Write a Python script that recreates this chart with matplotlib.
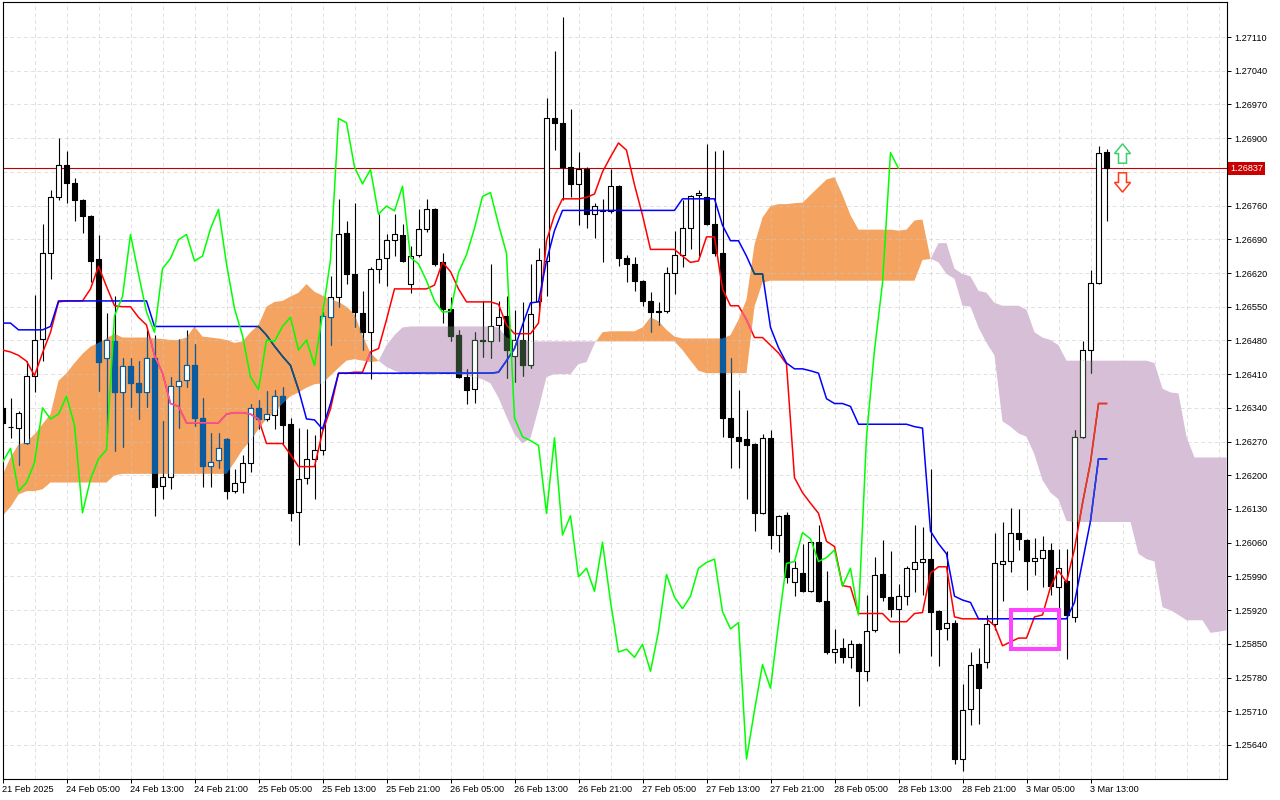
import numpy as np
import matplotlib
matplotlib.use("Agg")
import matplotlib.pyplot as plt
from matplotlib.collections import LineCollection, PatchCollection
from matplotlib.patches import Rectangle, Polygon
from matplotlib.path import Path

plt.rcParams['font.family'] = ['Liberation Sans', 'DejaVu Sans']

# H1 bars, 21 Feb 2025 21:00 .. 3 Mar 2025 14:00
opens = [
    1.26340, 1.26300, 1.26298, 1.26268, 1.26407, 1.26484, 1.26661, 1.26777, 1.26844, 1.26807,
    1.26772, 1.26739, 1.26649, 1.26444, 1.26478, 1.26373, 1.26427, 1.26392, 1.26373, 1.26444,
    1.26177, 1.26197, 1.26386, 1.26398, 1.26430, 1.26319, 1.26220, 1.26232, 1.26275, 1.26167,
    1.26187, 1.26226, 1.26340, 1.26317, 1.26325, 1.26364, 1.26306, 1.26124, 1.26194, 1.26234,
    1.26253, 1.26528, 1.26571, 1.26703, 1.26618, 1.26537, 1.26497, 1.26629, 1.26652, 1.26689,
    1.26698, 1.26597, 1.26658, 1.26712, 1.26752, 1.26642, 1.26546, 1.26491, 1.26404, 1.26380,
    1.26481, 1.26478, 1.26511, 1.26530, 1.26447, 1.26481, 1.26428, 1.26562, 1.26645, 1.26941,
    1.26932, 1.26840, 1.26805, 1.26835, 1.26742, 1.26750, 1.26748, 1.26801, 1.26652, 1.26639,
    1.26604, 1.26562, 1.26541, 1.26542, 1.26621, 1.26658, 1.26713, 1.26782, 1.26777, 1.26721,
    1.26661, 1.26319, 1.26280, 1.26275, 1.26264, 1.26121, 1.26278, 1.26076, 1.26118, 1.25978,
    1.25997, 1.25959, 1.26061, 1.25938, 1.25833, 1.25841, 1.25822, 1.25849, 1.25793, 1.25878,
    1.25996, 1.25947, 1.25923, 1.25949, 1.26005, 1.26019, 1.26026, 1.25918, 1.25883, 1.25894,
    1.25611, 1.25714, 1.25809, 1.25812, 1.25892, 1.26016, 1.26021, 1.26081, 1.26066, 1.26021,
    1.26029, 1.26045, 1.25968, 1.25981, 1.25906, 1.26280, 1.26460, 1.26599, 1.26872,
]
highs = [
    1.26343, 1.26361, 1.26333, 1.26437, 1.26574, 1.26722, 1.26793, 1.26901, 1.26873, 1.26817,
    1.26774, 1.26741, 1.26698, 1.26536, 1.26573, 1.26444, 1.26444, 1.26438, 1.26502, 1.26491,
    1.26312, 1.26404, 1.26484, 1.26502, 1.26473, 1.26361, 1.26287, 1.26287, 1.26277, 1.26213,
    1.26243, 1.26349, 1.26357, 1.26375, 1.26378, 1.26383, 1.26319, 1.26298, 1.26296, 1.26283,
    1.26539, 1.26613, 1.26774, 1.26729, 1.26766, 1.26583, 1.26632, 1.26742, 1.26700, 1.26742,
    1.26722, 1.26676, 1.26752, 1.26774, 1.26754, 1.26661, 1.26571, 1.26502, 1.26421, 1.26497,
    1.26562, 1.26639, 1.26562, 1.26573, 1.26544, 1.26560, 1.26639, 1.26671, 1.26983, 1.27080,
    1.27152, 1.26960, 1.26872, 1.26840, 1.26766, 1.26774, 1.26835, 1.26803, 1.26657, 1.26653,
    1.26606, 1.26581, 1.26560, 1.26632, 1.26708, 1.26772, 1.26782, 1.26793, 1.26888, 1.26874,
    1.26875, 1.26444, 1.26378, 1.26336, 1.26266, 1.26285, 1.26293, 1.26118, 1.26123, 1.26021,
    1.26058, 1.26063, 1.26097, 1.26002, 1.25880, 1.25862, 1.25857, 1.25851, 1.25952, 1.26031,
    1.26065, 1.26042, 1.25975, 1.26012, 1.26097, 1.26092, 1.26213, 1.25920, 1.26042, 1.25899,
    1.25767, 1.25834, 1.25841, 1.25910, 1.26081, 1.26103, 1.26132, 1.26130, 1.26068, 1.26070,
    1.26074, 1.26060, 1.26047, 1.26047, 1.26293, 1.26478, 1.26627, 1.26883, 1.26877,
]
lows = [
    1.26306, 1.26277, 1.26222, 1.26265, 1.26372, 1.26437, 1.26607, 1.26772, 1.26766, 1.26727,
    1.26703, 1.26602, 1.26375, 1.26287, 1.26250, 1.26259, 1.26341, 1.26317, 1.26341, 1.26116,
    1.26150, 1.26172, 1.26298, 1.26383, 1.26303, 1.26176, 1.26176, 1.26216, 1.26151, 1.26164,
    1.26164, 1.26206, 1.26296, 1.26312, 1.26296, 1.26264, 1.26105, 1.26055, 1.26181, 1.26150,
    1.26243, 1.26470, 1.26549, 1.26597, 1.26507, 1.26460, 1.26399, 1.26600, 1.26592, 1.26655,
    1.26642, 1.26579, 1.26653, 1.26705, 1.26634, 1.26516, 1.26478, 1.26401, 1.26349, 1.26351,
    1.26446, 1.26444, 1.26478, 1.26401, 1.26393, 1.26407, 1.26423, 1.26544, 1.26573, 1.26875,
    1.26772, 1.26777, 1.26719, 1.26713, 1.26692, 1.26642, 1.26745, 1.26634, 1.26602, 1.26583,
    1.26552, 1.26497, 1.26512, 1.26537, 1.26576, 1.26632, 1.26669, 1.26655, 1.26719, 1.26655,
    1.26280, 1.26216, 1.26216, 1.26150, 1.26084, 1.26119, 1.26047, 1.26040, 1.25976, 1.25949,
    1.25957, 1.25957, 1.25936, 1.25828, 1.25811, 1.25811, 1.25799, 1.25722, 1.25772, 1.25875,
    1.25938, 1.25906, 1.25830, 1.25931, 1.25957, 1.25952, 1.25825, 1.25804, 1.25857, 1.25601,
    1.25587, 1.25682, 1.25684, 1.25799, 1.25878, 1.25938, 1.25999, 1.26045, 1.25962, 1.25994,
    1.25968, 1.25952, 1.25923, 1.25818, 1.25896, 1.26277, 1.26412, 1.26597, 1.26727,
]
closes = [
    1.26308, 1.26300, 1.26330, 1.26406, 1.26481, 1.26661, 1.26777, 1.26844, 1.26807, 1.26772,
    1.26739, 1.26645, 1.26436, 1.26481, 1.26373, 1.26427, 1.26391, 1.26373, 1.26444, 1.26175,
    1.26197, 1.26386, 1.26396, 1.26430, 1.26319, 1.26220, 1.26227, 1.26256, 1.26167, 1.26185,
    1.26226, 1.26340, 1.26317, 1.26327, 1.26364, 1.26304, 1.26122, 1.26192, 1.26234, 1.26253,
    1.26531, 1.26571, 1.26700, 1.26618, 1.26539, 1.26497, 1.26629, 1.26650, 1.26689, 1.26700,
    1.26645, 1.26655, 1.26712, 1.26752, 1.26639, 1.26546, 1.26490, 1.26404, 1.26378, 1.26481,
    1.26478, 1.26509, 1.26528, 1.26460, 1.26481, 1.26428, 1.26534, 1.26647, 1.26941, 1.26932,
    1.26840, 1.26805, 1.26835, 1.26742, 1.26759, 1.26749, 1.26800, 1.26652, 1.26639, 1.26604,
    1.26562, 1.26539, 1.26540, 1.26621, 1.26658, 1.26713, 1.26779, 1.26787, 1.26721, 1.26661,
    1.26319, 1.26280, 1.26272, 1.26262, 1.26121, 1.26278, 1.26076, 1.26116, 1.25989, 1.26007,
    1.25959, 1.26061, 1.25938, 1.25833, 1.25839, 1.25822, 1.25849, 1.25793, 1.25876, 1.25994,
    1.25947, 1.25923, 1.25949, 1.26007, 1.26019, 1.26026, 1.25917, 1.25881, 1.25894, 1.25611,
    1.25712, 1.25807, 1.25758, 1.25892, 1.26017, 1.26021, 1.26081, 1.26068, 1.26021, 1.26029,
    1.26045, 1.25970, 1.26007, 1.25910, 1.26280, 1.26460, 1.26599, 1.26870, 1.26837,
]

# Ichimoku lines
tenkan = [
    1.26460, 1.26456, 1.26449, 1.26437, 1.26407, 1.26454, 1.26497, 1.26560, 1.26562, 1.26562,
    1.26562, 1.26587, 1.26634, 1.26592, 1.26552, 1.26550, 1.26550, 1.26528, 1.26512, 1.26449,
    1.26412, 1.26349, 1.26343, 1.26309, 1.26309, 1.26309, 1.26309, 1.26309, 1.26327, 1.26330,
    1.26330, 1.26327, 1.26317, 1.26266, 1.26266, 1.26266, 1.26243, 1.26218, 1.26218, 1.26218,
    1.26290, 1.26338, 1.26412, 1.26412, 1.26414, 1.26414, 1.26456, 1.26463, 1.26523, 1.26587,
    1.26587, 1.26587, 1.26587, 1.26587, 1.26595, 1.26642, 1.26623, 1.26587, 1.26560, 1.26560,
    1.26560, 1.26560, 1.26555, 1.26512, 1.26494, 1.26494, 1.26494, 1.26516, 1.26687, 1.26740,
    1.26774, 1.26774, 1.26774, 1.26777, 1.26784, 1.26830, 1.26861, 1.26890, 1.26875, 1.26803,
    1.26740, 1.26669, 1.26669, 1.26669, 1.26669, 1.26655, 1.26642, 1.26645, 1.26695, 1.26695,
    1.26587, 1.26552, 1.26552, 1.26523, 1.26486, 1.26486, 1.26470, 1.26454, 1.26431, 1.26195,
    1.26164, 1.26142, 1.26121, 1.26063, 1.26052, 1.25971, 1.25968, 1.25913, 1.25913, 1.25913,
    1.25913, 1.25896, 1.25896, 1.25896, 1.25913, 1.25915, 1.25997, 1.26010, 1.26010, 1.25906,
    1.25902, 1.25902, 1.25902, 1.25902, 1.25888, 1.25846, 1.25854, 1.25862, 1.25862, 1.25906,
    1.25910, 1.25968, 1.26002, 1.25978, 1.26047, 1.26142, 1.26227, 1.26349, 1.26349,
]
kijun = [
    1.26516, 1.26516, 1.26502, 1.26502, 1.26502, 1.26502, 1.26509, 1.26562, 1.26562, 1.26562,
    1.26562, 1.26562, 1.26562, 1.26562, 1.26562, 1.26562, 1.26562, 1.26562, 1.26562, 1.26509,
    1.26509, 1.26509, 1.26509, 1.26509, 1.26509, 1.26509, 1.26509, 1.26509, 1.26509, 1.26509,
    1.26509, 1.26509, 1.26509, 1.26491, 1.26468, 1.26447, 1.26428, 1.26378, 1.26317, 1.26315,
    1.26296, 1.26349, 1.26412, 1.26412, 1.26412, 1.26412, 1.26412, 1.26412, 1.26412, 1.26412,
    1.26412, 1.26412, 1.26412, 1.26412, 1.26412, 1.26412, 1.26412, 1.26412, 1.26412, 1.26412,
    1.26412, 1.26412, 1.26414, 1.26438, 1.26463, 1.26512, 1.26558, 1.26560, 1.26645, 1.26708,
    1.26750, 1.26750, 1.26750, 1.26750, 1.26750, 1.26750, 1.26750, 1.26750, 1.26750, 1.26750,
    1.26750, 1.26750, 1.26750, 1.26750, 1.26750, 1.26774, 1.26774, 1.26774, 1.26774, 1.26774,
    1.26719, 1.26687, 1.26687, 1.26655, 1.26618, 1.26618, 1.26507, 1.26465, 1.26433, 1.26421,
    1.26421, 1.26417, 1.26412, 1.26359, 1.26349, 1.26349, 1.26343, 1.26306, 1.26306, 1.26306,
    1.26306, 1.26306, 1.26306, 1.26306, 1.26301, 1.26298, 1.26084, 1.26058, 1.26037, 1.25949,
    1.25941, 1.25936, 1.25902, 1.25902, 1.25902, 1.25902, 1.25902, 1.25902, 1.25902, 1.25902,
    1.25902, 1.25902, 1.25902, 1.25902, 1.25936, 1.26021, 1.26105, 1.26234, 1.26234,
]
# senkou spans, already displaced 26 bars forward (so they run past the last bar)
span_a = [
    1.26200, 1.26237, 1.26264, 1.26269, 1.26285, 1.26306, 1.26327, 1.26396, 1.26412, 1.26433,
    1.26452, 1.26467, 1.26475, 1.26484, 1.26494, 1.26486, 1.26486, 1.26486, 1.26486, 1.26484,
    1.26483, 1.26481, 1.26481, 1.26486, 1.26509, 1.26488, 1.26486, 1.26484, 1.26481, 1.26475,
    1.26478, 1.26497, 1.26512, 1.26550, 1.26560, 1.26562, 1.26571, 1.26579, 1.26597, 1.26581,
    1.26573, 1.26565, 1.26560, 1.26550, 1.26534, 1.26491, 1.26454, 1.26438, 1.26425, 1.26417,
    1.26412, 1.26412, 1.26412, 1.26409, 1.26409, 1.26412, 1.26412, 1.26409, 1.26407, 1.26404,
    1.26399, 1.26391, 1.26361, 1.26322, 1.26285, 1.26266, 1.26277, 1.26338, 1.26404, 1.26410,
    1.26410, 1.26410, 1.26431, 1.26435, 1.26473, 1.26497, 1.26499, 1.26499, 1.26499, 1.26499,
    1.26507, 1.26528, 1.26520, 1.26502, 1.26488, 1.26484, 1.26484, 1.26484, 1.26484, 1.26484,
    1.26484, 1.26491, 1.26523, 1.26565, 1.26679, 1.26735, 1.26759, 1.26763, 1.26763, 1.26765,
    1.26766, 1.26782, 1.26798, 1.26814, 1.26819, 1.26782, 1.26740, 1.26710, 1.26710, 1.26710,
    1.26710, 1.26710, 1.26708, 1.26710, 1.26729, 1.26731, 1.26650, 1.26642, 1.26618, 1.26608,
    1.26552, 1.26550, 1.26507, 1.26475, 1.26449, 1.26312, 1.26301, 1.26287, 1.26280, 1.26243,
    1.26190, 1.26164, 1.26150, 1.26105, 1.26103, 1.26103, 1.26103, 1.26103, 1.26103, 1.26103,
    1.26103, 1.26103, 1.26037, 1.26026, 1.26021, 1.25926, 1.25920, 1.25910, 1.25899, 1.25899,
    1.25899, 1.25873, 1.25875, 1.25878,
]
span_b = [
    1.26116, 1.26134, 1.26160, 1.26167, 1.26167, 1.26171, 1.26185, 1.26185, 1.26185, 1.26185,
    1.26185, 1.26185, 1.26185, 1.26185, 1.26200, 1.26203, 1.26203, 1.26203, 1.26203, 1.26203,
    1.26203, 1.26203, 1.26203, 1.26203, 1.26203, 1.26203, 1.26203, 1.26203, 1.26203, 1.26227,
    1.26253, 1.26272, 1.26296, 1.26317, 1.26330, 1.26349, 1.26364, 1.26372, 1.26382, 1.26389,
    1.26391, 1.26407, 1.26423, 1.26438, 1.26441, 1.26438, 1.26435, 1.26437, 1.26470, 1.26491,
    1.26507, 1.26509, 1.26509, 1.26509, 1.26509, 1.26509, 1.26509, 1.26509, 1.26509, 1.26509,
    1.26509, 1.26509, 1.26507, 1.26486, 1.26481, 1.26481, 1.26478, 1.26478, 1.26478, 1.26478,
    1.26478, 1.26478, 1.26478, 1.26478, 1.26478, 1.26478, 1.26478, 1.26478, 1.26478, 1.26478,
    1.26478, 1.26478, 1.26478, 1.26478, 1.26478, 1.26460, 1.26438, 1.26417, 1.26412, 1.26412,
    1.26412, 1.26412, 1.26412, 1.26412, 1.26550, 1.26600, 1.26604, 1.26604, 1.26604, 1.26604,
    1.26604, 1.26604, 1.26604, 1.26604, 1.26604, 1.26604, 1.26604, 1.26604, 1.26604, 1.26604,
    1.26604, 1.26604, 1.26604, 1.26604, 1.26604, 1.26647, 1.26649, 1.26682, 1.26682, 1.26629,
    1.26618, 1.26613, 1.26583, 1.26579, 1.26558, 1.26552, 1.26552, 1.26552, 1.26544, 1.26497,
    1.26486, 1.26481, 1.26470, 1.26438, 1.26438, 1.26438, 1.26438, 1.26438, 1.26438, 1.26438,
    1.26438, 1.26438, 1.26438, 1.26438, 1.26433, 1.26380, 1.26372, 1.26370, 1.26280, 1.26237,
    1.26237, 1.26237, 1.26237, 1.26237,
]
chikou_shift = 26

price_ticks = [
    1.25640, 1.25710, 1.25780, 1.25850, 1.25920, 1.25990, 1.26060, 1.26130, 1.26200, 1.26270,
    1.26340, 1.26410, 1.26480, 1.26550, 1.26620, 1.26690, 1.26760, 1.26830, 1.26900, 1.26970,
    1.27040, 1.27110,
]
time_labels = [
    "21 Feb 2025", "24 Feb 05:00", "24 Feb 13:00", "24 Feb 21:00", "25 Feb 05:00",
    "25 Feb 13:00", "25 Feb 21:00", "26 Feb 05:00", "26 Feb 13:00", "26 Feb 21:00",
    "27 Feb 05:00", "27 Feb 13:00", "27 Feb 21:00", "28 Feb 05:00", "28 Feb 13:00",
    "28 Feb 21:00", "3 Mar 05:00", "3 Mar 13:00",
]
bars_per_label = 8

# highlighted tenkan/kijun cross
box_bars = (126, 132)
box_prices = (1.25839, 1.25920)

SANDY = '#f4a460'
THISTLE = '#d8bfd8'


def main():
    n = len(closes)
    x = np.arange(n)
    xc = np.arange(len(span_a))
    a = np.array(span_a)
    b = np.array(span_b)
    last = closes[-1]

    fig = plt.figure(figsize=(12.8, 8), dpi=100)
    ax = fig.add_axes([2.5 / 1280, 21 / 800, 1224.5 / 1280, 777 / 800])
    xmax = 1224.5 / 8
    ax.set_xlim(0, xmax)
    ax.set_ylim(1.25640 - 34 / 48163, 1.27110 + 35 / 48163)

    # grid (semi transparent so it shows as a lighter tint over the cloud)
    gkw = dict(color=(0.78, 0.78, 0.78, 0.55), lw=0.7, ls=(0, (4, 3)), zorder=1.5)
    for k in range(4, int(xmax) + 1, 4):
        ax.axvline(k, **gkw)
    for p in price_ticks:
        ax.axhline(p, **gkw)

    # kumo
    orange = ax.fill_between(xc, a, b, where=a >= b, interpolate=True,
                             color=SANDY, lw=0, zorder=1)
    purple = ax.fill_between(xc, a, b, where=a < b, interpolate=True,
                             color=THISTLE, lw=0, zorder=1)
    clip_o = Path.make_compound_path(*orange.get_paths())
    clip_p = Path.make_compound_path(*purple.get_paths())

    ax.axhline(last, color='#c00000', lw=0.8, zorder=2.5)

    bw = 0.55

    def candles(edge, down_face, clip=None, z=3):
        segs = [[(i, lo), (i, hi)] for i, lo, hi in zip(x, lows, highs)]
        wicks = LineCollection(segs, colors=edge, linewidths=0.8, zorder=z)
        rects = [Rectangle((i - bw / 2, min(o, c)), bw, abs(c - o))
                 for i, o, c in zip(x, opens, closes)]
        faces = ['white' if c >= o else down_face for o, c in zip(opens, closes)]
        bodies = PatchCollection(rects, facecolors=faces, edgecolors=edge,
                                 linewidths=0.8, zorder=z + 0.1)
        if clip is not None:
            wicks.set_clip_path(clip, ax.transData)
            bodies.set_clip_path(clip, ax.transData)
        ax.add_collection(wicks)
        ax.add_collection(bodies)

    candles('black', 'black')
    # the terminal inverts colours where bars sit inside the cloud
    candles('#0b5b9f', '#0b5b9f', clip_o, z=3.5)
    candles('#274027', '#274027', clip_p, z=3.5)

    ax.plot(x, tenkan, color='#ff0000', lw=1.1, zorder=5)
    ax.plot(x, kijun, color='#0000ff', lw=1.1, zorder=5.2)
    for clip, tc, kc in [(clip_o, '#f45b9f', '#0b5b60'), (clip_p, '#d84027', '#2740d8')]:
        l1, = ax.plot(x, tenkan, color=tc, lw=1.1, zorder=5.1)
        l1.set_clip_path(clip, ax.transData)
        l2, = ax.plot(x, kijun, color=kc, lw=1.1, zorder=5.3)
        l2.set_clip_path(clip, ax.transData)

    ax.plot(x[:n - chikou_shift], closes[chikou_shift:], color='#00ff00', lw=1.1, zorder=6)

    # cross highlight
    ax.add_patch(Rectangle((box_bars[0], box_prices[0]), box_bars[1] - box_bars[0],
                           box_prices[1] - box_prices[0], fill=False,
                           ec='#ff44ff', lw=2.9, zorder=7))

    # buy / sell arrows next to the last bar
    ax_x = n + 1
    up = [(ax_x - 0.5, last + 0.00011), (ax_x + 0.5, last + 0.00011),
          (ax_x + 0.5, last + 0.00031), (ax_x + 1.0, last + 0.00031),
          (ax_x, last + 0.00051), (ax_x - 1.0, last + 0.00031),
          (ax_x - 0.5, last + 0.00031)]
    dn = [(ax_x - 0.5, last - 0.00009), (ax_x + 0.5, last - 0.00009),
          (ax_x + 0.5, last - 0.00029), (ax_x + 1.0, last - 0.00029),
          (ax_x, last - 0.00049), (ax_x - 1.0, last - 0.00029),
          (ax_x - 0.5, last - 0.00029)]
    ax.add_patch(Polygon(up, closed=True, fc='white', ec='#3ccf6a', lw=1.1, zorder=7))
    ax.add_patch(Polygon(dn, closed=True, fc='white', ec='#ff3a1a', lw=1.1, zorder=7))

    # axes cosmetics
    for s in ax.spines.values():
        s.set_color('black')
        s.set_linewidth(0.8)
    ax.yaxis.tick_right()
    ax.set_yticks(price_ticks)
    ax.set_yticklabels(["" if abs(p - last) < 0.0002 else f"{p:.5f}" for p in price_ticks])
    ax.tick_params(axis='y', direction='out', length=3, width=0.7, pad=2, labelsize=6.6)
    ax.set_xticks(range(0, n, bars_per_label))
    ax.set_xticklabels(time_labels)
    ax.tick_params(axis='x', direction='out', length=3, width=0.7, pad=1.5, labelsize=6.6)
    for lbl in ax.get_xticklabels():
        lbl.set_ha('left')

    ax.annotate(f"{last:.5f}", xy=(1, last), xycoords=('axes fraction', 'data'),
                xytext=(2.2, 0), textcoords='offset points', ha='left', va='center',
                fontsize=6.6, color='white', annotation_clip=False,
                bbox=dict(boxstyle='square,pad=0.18', fc='#c80000', ec='none'))

    fig.savefig('out.png', dpi=100, facecolor='white')


if __name__ == "__main__":
    main()
